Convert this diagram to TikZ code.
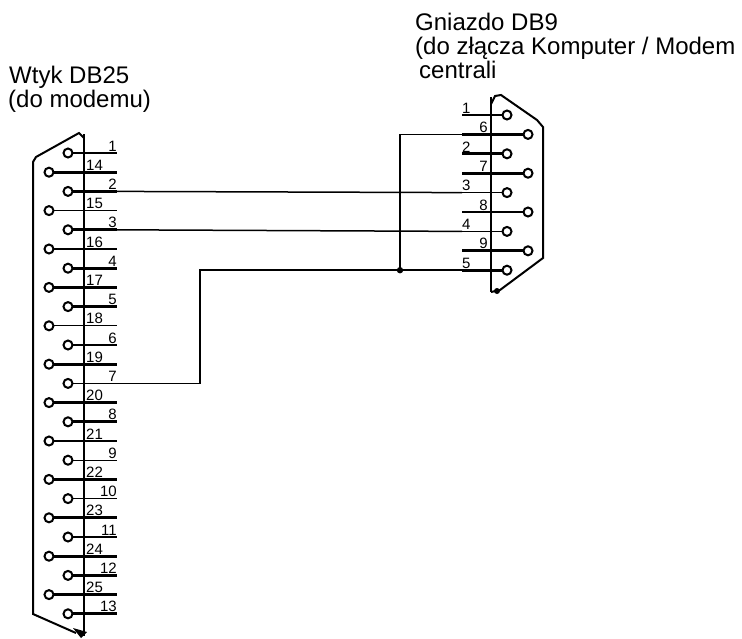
\documentclass[tikz,border=0pt]{standalone}
\usepackage{fontspec}
\setmainfont{Liberation Sans}
\begin{document}
\begin{tikzpicture}[x=1pt,y=-1pt,
  pinc/.style={circle,draw,line width=2pt,inner sep=0pt,minimum size=9pt,fill=white},
  thk/.style={line width=2.8pt},
  thn/.style={line width=1.3pt},
  wire/.style={line width=1.5pt},
  body/.style={line width=2pt},
  lbl/.style={font=\fontsize{15}{15}\selectfont,inner sep=0pt},
  title/.style={font=\fontsize{24}{24}\selectfont,inner sep=0pt,anchor=base west}]
\useasboundingbox (0,0) rectangle (742,638);
% titles
\node[title] (t1) at (9,83) {Wtyk DB25};
\node[title] (t2) at (8,107) {(do modemu)};
\node[title] (t3) at (415,30) {Gniazdo DB9};
\node[title] (t4) at (415,54) {(do złącza Komputer / Modem};
\node[title] (t5) at (419,78) {centrali};
% DB25 body
\draw[body] (84,134) -- (84,636);
\draw[body] (84,138) -- (79,133) -- (36,157) -- (33,162) -- (33,614) -- (76,633);
\fill (73,628) -- (87,632) -- (81,638) -- cycle;
% DB25 pins 1..13
\foreach \n/\w in {1/thk,2/thk,3/thk,4/thk,5/thk,6/thk,7/thn,8/thk,9/thn,10/thn,11/thn,12/thk,13/thk}{
  \pgfmathsetmacro\yy{153+38.4*(\n-1)}
  \coordinate (ae\n) at (117,\yy);
  \draw[\w] (68,\yy) -- (ae\n);
  \node[pinc] (a\n) at (68,\yy) {};
  \node[lbl,anchor=south east] (al\n) at (117,\yy-1.5) {\n};
}
% DB25 pins 14..25
\foreach \n/\w in {14/thk,15/thn,16/thn,17/thk,18/thn,19/thk,20/thk,21/thk,22/thk,23/thk,24/thk,25/thk}{
  \pgfmathsetmacro\yy{172.2+38.4*(\n-14)}
  \coordinate (ae\n) at (117,\yy);
  \draw[\w] (49,\yy) -- (ae\n);
  \node[pinc] (a\n) at (49,\yy) {};
  \node[lbl,anchor=south west] (al\n) at (86,\yy-1.5) {\n};
}
% DB9 body
\draw[body] (491,97) -- (491,292);
\draw[body] (491,104) -- (495,96) -- (501,95) -- (537,120) -- (543,127) -- (543,258) -- (500,290) -- (491,292);
\fill (497,291) circle (3);
% DB9 pins 1..5
\foreach \n/\w in {1/thn,2/thk,3/thn,4/thn,5/thk}{
  \pgfmathsetmacro\yy{115+38.8*(\n-1)}
  \coordinate (bs\n) at (462,\yy);
  \draw[\w] (bs\n) -- (507,\yy);
  \node[pinc] (b\n) at (507,\yy) {};
  \node[lbl,anchor=south west] (bl\n) at (462,\yy-1.5) {\n};
}
% DB9 pins 6..9
\foreach \n/\w in {6/thk,7/thk,8/thk,9/thk}{
  \pgfmathsetmacro\yy{134.4+38.8*(\n-6)}
  \coordinate (bs\n) at (462,\yy);
  \draw[\w] (bs\n) -- (528,\yy);
  \node[pinc] (b\n) at (528,\yy) {};
  \node[lbl,anchor=south east] (bl\n) at (488,\yy-1.5) {\n};
}
% wires
\draw[wire] (ae2) -- (bs3);
\draw[wire] (ae3) -- (bs4);
\coordinate (k) at (200,0);
\coordinate (j) at (400,0);
\draw[wire] (ae7) -| (k |- bs5) -- (bs5);
\draw[wire] (j |- bs5) |- (bs6);
\fill (j |- bs5) circle (3.2);
\end{tikzpicture}
\end{document}
